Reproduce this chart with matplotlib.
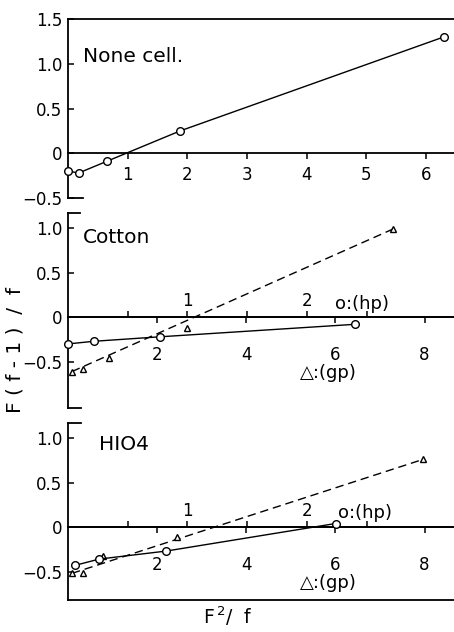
import matplotlib

matplotlib.use("Agg")
import matplotlib.pyplot as plt

# ---- data ----
# top panel: None cell. (single x scale)
none_x = [0.0, 0.18, 0.65, 1.88, 6.30]
none_y = [-0.20, -0.22, -0.09, 0.25, 1.30]

# Cotton: circles on the (hp) scale, triangles on the (gp) scale
cotton_hp_x = [0.0, 0.22, 0.77, 2.40]
cotton_hp_y = [-0.30, -0.27, -0.22, -0.08]
cotton_gp_x = [0.09, 0.34, 0.92, 2.66, 7.29]
cotton_gp_y = [-0.61, -0.58, -0.46, -0.12, 0.99]

# HIO4
hio4_hp_x = [0.06, 0.26, 0.82, 2.24]
hio4_hp_y = [-0.43, -0.36, -0.27, 0.04]
hio4_gp_x = [0.09, 0.34, 0.78, 2.44, 7.96]
hio4_gp_y = [-0.52, -0.52, -0.33, -0.11, 0.76]

top_xticks = [1, 2, 3, 4, 5, 6]
top_yticks = [-0.5, 0, 0.5, 1.0, 1.5]
top_ylabels = ["\u22120.5", "0", "0.5", "1.0", "1.5"]
low_yticks = [-0.5, 0, 0.5, 1.0]
low_ylabels = ["\u22120.5", "0", "0.5", "1.0"]
gp_ticks = [2, 4, 6, 8]
hp_ticks = [0.5, 1.0, 1.5, 2.0, 2.5]
hp_labels = ["", "1", "", "2", ""]

HP_TO_GP = 2.68  # one (hp) unit spans this many (gp) units on the page
GP_XMAX = 8.66
TOP_XMAX = 6.47

LW = 1.0
SPINE_LW = 1.3
FS = 12

fig = plt.figure(figsize=(4.54, 6.32), dpi=100)
ax1 = fig.add_axes([0.1498, 0.6867, 0.8502, 0.2832])
ax2 = fig.add_axes([0.1498, 0.3544, 0.8502, 0.3085])
ax3 = fig.add_axes([0.1498, 0.0506, 0.8502, 0.2801])

circle = dict(marker="o", ms=5.5, mfc="white", mec="black", mew=1.0, clip_on=False, zorder=3)
tri = dict(marker="^", ms=5, mfc="white", mec="black", mew=1.0, clip_on=False, zorder=3)


def frame(ax, ylim, yticks, ylabels, top_stub, bottom_stub):
    ax.set_ylim(*ylim)
    ax.spines["right"].set_visible(False)
    for side in ("left", "top", "bottom"):
        ax.spines[side].set_linewidth(SPINE_LW)
    if top_stub is not None:
        ax.spines["top"].set_bounds(0, top_stub)
    if bottom_stub is not None:
        ax.spines["bottom"].set_bounds(0, bottom_stub)
    ax.tick_params(axis="x", which="both", bottom=False, top=False,
                   labelbottom=False, labeltop=False)
    ax.set_yticks(yticks, ylabels)
    ax.tick_params(axis="y", direction="in", length=4, width=1.1,
                   labelsize=FS, pad=4)


def zero_axis(ax, ticks, pad):
    sec = ax.secondary_xaxis(0, transform=ax.transData)
    sec.set_alignment("bottom")
    sec.spines["bottom"].set_linewidth(SPINE_LW)
    sec.spines["top"].set_visible(False)
    sec.set_xticks(ticks, [str(t) for t in ticks])
    sec.tick_params(direction="out", length=4, width=1.1, labelsize=FS, pad=pad)
    return sec


# ---- None cell ----
ax1.set_xlim(0, TOP_XMAX)
frame(ax1, (-0.5, 1.5), top_yticks, top_ylabels, None, 0.25)
zero_axis(ax1, top_xticks, 5)
ax1.plot(none_x, none_y, color="black", lw=LW, **circle)
ax1.text(0.039, 0.788, "None cell.", transform=ax1.transAxes, fontsize=14.5,
         va="center", ha="left")


def two_scale_panel(ax, ylim, top_stub, bottom_stub, hp_x, hp_y, gp_x, gp_y,
                    name, name_pos, hp_pos, gp_pos):
    ax.set_xlim(0, GP_XMAX)
    ax_hp = ax.twiny()
    ax_hp.set_xlim(0, GP_XMAX / HP_TO_GP)
    frame(ax, ylim, low_yticks, low_ylabels, top_stub, bottom_stub)
    zero_axis(ax, gp_ticks, 17)

    for side in ("left", "right", "bottom"):
        ax_hp.spines[side].set_visible(False)
    ax_hp.spines["top"].set_position(("data", 0))
    ax_hp.spines["top"].set_linewidth(SPINE_LW)
    ax_hp.set_xticks(hp_ticks, hp_labels)
    ax_hp.tick_params(axis="x", direction="out", length=4, width=1.1,
                      labelsize=FS, pad=1)

    # dashed fit for triangles runs from first to last point
    ax.plot([gp_x[0], gp_x[-1]], [gp_y[0], gp_y[-1]], color="black", lw=LW,
            dashes=(6, 3.5))
    ax.plot(gp_x, gp_y, ls="none", **tri)
    ax_hp.plot(hp_x, hp_y, color="black", lw=LW, **circle)

    ax.text(name_pos[0], name_pos[1], name, transform=ax.transAxes, fontsize=14.5,
            va="center", ha="left")
    ax.text(hp_pos[0], hp_pos[1], "o:(hp)", transform=ax.transAxes, fontsize=13,
            va="center", ha="left")
    ax.text(gp_pos[0], gp_pos[1], "\u25b3:(gp)", transform=ax.transAxes,
            fontsize=13, va="center", ha="left")


two_scale_panel(ax2, (-1.02, 1.17), 0.28, 0.3, cotton_hp_x, cotton_hp_y,
                cotton_gp_x, cotton_gp_y, "Cotton", (0.039, 0.877),
                (0.692, 0.533), (0.601, 0.179))
two_scale_panel(ax3, (-0.82, 1.17), 0.3, None, hio4_hp_x, hio4_hp_y,
                hio4_gp_x, hio4_gp_y, "HIO4", (0.080, 0.876),
                (0.699, 0.492), (0.601, 0.096))

fig.text(0.033, 0.446, "F ( f - 1 )  /  f", rotation=90, fontsize=14.5,
         ha="center", va="center")
fig.text(0.502, 0.006, "F$^{\\,2}$/  f", fontsize=13.5, ha="center", va="bottom")

fig.savefig("out.png", dpi=100)
